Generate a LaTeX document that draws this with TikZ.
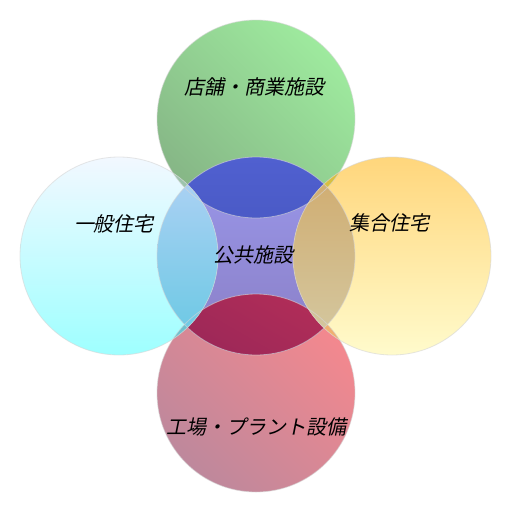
\documentclass[tikz,border=0pt]{standalone}
\usepackage{fontspec}
\newfontfamily\jpfont[FakeSlant=0.2]{Noto Sans CJK JP}
\definecolor{gTop}{RGB}{158,234,158}
\definecolor{gBot}{RGB}{134,182,134}
\definecolor{pTop}{RGB}{244,136,142}
\definecolor{pBot}{RGB}{190,136,156}
\definecolor{cTop}{RGB}{154,152,236}
\definecolor{cBot}{RGB}{138,126,196}
\definecolor{tcTop}{RGB}{80,96,208}
\definecolor{tcBot}{RGB}{62,78,176}
\definecolor{bcTop}{RGB}{202,52,88}
\definecolor{bcBot}{RGB}{158,40,88}
\definecolor{lTop}{RGB}{242,248,255}
\definecolor{lBot}{RGB}{158,255,255}
\definecolor{ltLens}{RGB}{156,196,172}
\definecolor{lbLens}{RGB}{110,192,206}
\definecolor{lcTop}{RGB}{180,210,246}
\definecolor{lcBot}{RGB}{100,200,226}
\definecolor{rTop}{RGB}{255,214,124}
\definecolor{rBot}{RGB}{255,251,204}
\definecolor{rtLens}{RGB}{216,192,64}
\definecolor{rbLens}{RGB}{240,176,112}
\definecolor{rcTop}{RGB}{208,170,108}
\definecolor{rcBot}{RGB}{212,202,164}
\begin{document}
\begin{tikzpicture}[x=1pt,y=-1pt,
  lbl/.style={font=\jpfont\fontsize{20}{24}\selectfont, text=black, inner sep=0pt},
  rim/.style={draw=black!16, line width=0.8pt}]
\useasboundingbox (0,0) rectangle (512,512);
\fill[white] (0,0) rectangle (512,512);
\coordinate (T) at (256,119);
\coordinate (C) at (256,256);
\coordinate (B) at (256,393);
\coordinate (L) at (119,256);
\coordinate (Rr) at (392,256);
\def\rad{99pt}
% top and bottom circles (diagonal gradients)
\shade[top color=gTop, bottom color=gBot, shading angle=-45] (T) circle[radius=\rad];
\shade[top color=pTop, bottom color=pBot, shading angle=-45] (B) circle[radius=\rad];
% centre circle
\shade[top color=cTop, bottom color=cBot] (C) circle[radius=\rad];
\begin{scope}
  \clip (T) circle[radius=\rad];
  \shade[top color=tcTop, bottom color=tcBot] (C) circle[radius=\rad];
\end{scope}
\begin{scope}
  \clip (B) circle[radius=\rad];
  \shade[top color=bcTop, bottom color=bcBot, shading angle=-30] (C) circle[radius=\rad];
\end{scope}
% left circle
\shade[top color=lTop, bottom color=lBot] (L) circle[radius=\rad];
\begin{scope}
  \clip (L) circle[radius=\rad];
  \fill[ltLens] (T) circle[radius=\rad];
  \fill[lbLens] (B) circle[radius=\rad];
  \shade[top color=lcTop, bottom color=lcBot] (C) circle[radius=\rad];
\end{scope}
% right circle
\shade[top color=rTop, bottom color=rBot] (Rr) circle[radius=\rad];
\begin{scope}
  \clip (Rr) circle[radius=\rad];
  \fill[rtLens] (T) circle[radius=\rad];
  \fill[rbLens] (B) circle[radius=\rad];
  \shade[top color=rcTop, bottom color=rcBot] (C) circle[radius=\rad];
\end{scope}
% rims
\foreach \p in {T,B,C,L,Rr} \draw[rim, opacity=0.6] (\p) circle[radius=\rad];
% labels
\node[lbl] (tlabel) at (254,87) {店舗・商業施設};
\node[lbl] (clabel) at (253,255) {公共施設};
\node[lbl] (llabel) at (114,224) {一般住宅};
\node[lbl] (rlabel) at (389,223) {集合住宅};
\node[lbl] (blabel) at (256,427) {工場・プラント設備};
\end{tikzpicture}
\end{document}
